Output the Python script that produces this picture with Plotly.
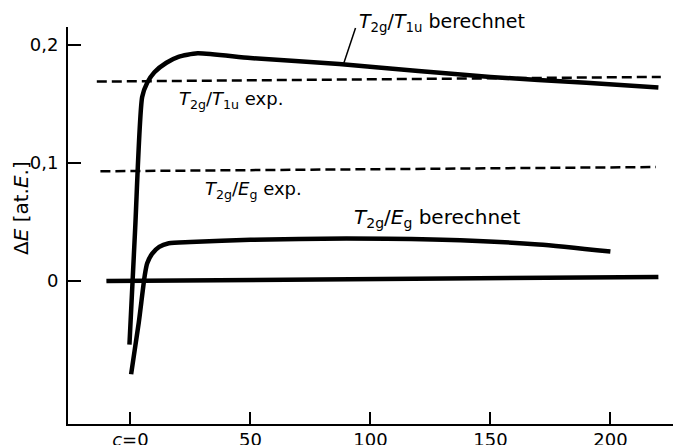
import plotly.graph_objects as go

# T2g/T1u berechnet
c_t1u_calc = [-0.4, 2.0, 4.9, 7, 10, 15, 20, 28, 50, 87, 120, 150, 190, 220]
e_t1u_calc = [-0.054, 0.045, 0.156, 0.168, 0.177, 0.185, 0.190, 0.193, 0.189, 0.184, 0.178, 0.173, 0.168, 0.164]

# T2g/Eg berechnet
c_eg_calc = [0.3, 3.5, 6, 7, 9, 12, 16, 25, 50, 90, 130, 170, 200]
e_eg_calc = [-0.079, -0.035, 0.005, 0.015, 0.023, 0.029, 0.032, 0.033, 0.035, 0.036, 0.035, 0.031, 0.025]

# zero line
c_zero = [-10, 100, 220]
e_zero = [0.0, 0.0015, 0.0034]

# experimental values (dashed)
c_t1u_exp = [-14, 221]
e_t1u_exp = [0.169, 0.173]
c_eg_exp = [-12.5, 219]
e_eg_exp = [0.093, 0.0966]

x_tickvals = [0, 50, 100, 150, 200]
x_ticktext = ["<i>c</i>=0", "50", "100", "150", "200"]
y_tickvals = [0, 0.1, 0.2]
y_ticktext = ["0", "0,1", "0,2"]

FONT = "DejaVu Sans"
fig = go.Figure()
solid = dict(color="black", width=4.5, shape="spline", smoothing=0.6)
fig.add_trace(go.Scatter(x=c_t1u_calc, y=e_t1u_calc, mode="lines", line=solid))
fig.add_trace(go.Scatter(x=c_eg_calc, y=e_eg_calc, mode="lines", line=solid))
fig.add_trace(go.Scatter(x=c_zero, y=e_zero, mode="lines", line=dict(color="black", width=4.5)))
dash = dict(color="black", width=2.5, dash="10px,5px")
fig.add_trace(go.Scatter(x=c_t1u_exp, y=e_t1u_exp, mode="lines", line=dash))
fig.add_trace(go.Scatter(x=c_eg_exp, y=e_eg_exp, mode="lines", line=dash))

# page body has an 8px margin; plot area spans window x 68..680, y 27..424
H = 397.0
def py(pix):
    return (424 - pix) / H

T = "<i>T</i><sub>2g</sub>"
annotations = [
    dict(x=94.6, y=py(22), text=T + "/<i>T</i><sub>1u</sub> berechnet", size=19),
    dict(x=19.6, y=py(100), text=T + "/<i>T</i><sub>1u</sub> exp.", size=18),
    dict(x=30.4, y=py(190), text=T + "/<i>E</i><sub>g</sub> exp.", size=18),
    dict(x=92.5, y=py(218), text=T + "/<i>E</i><sub>g</sub> berechnet", size=20),
]
for a in annotations:
    s = a.pop("size")
    a.update(xref="x", yref="paper", showarrow=False, xanchor="left", yanchor="middle",
             font=dict(family=FONT, size=s, color="black"))
annotations.append(dict(xref="paper", yref="paper", x=(21 - 68) / 612.0, y=py(208),
                        text="Δ<i>E</i> [at.<i>E</i>.]", textangle=-90, showarrow=False,
                        font=dict(family=FONT, size=20, color="black"),
                        xanchor="center", yanchor="middle"))

fig.update_layout(
    width=673, height=437,
    margin=dict(l=60, r=1, t=19, b=21, autoexpand=False),
    paper_bgcolor="white", plot_bgcolor="white",
    showlegend=False,
    font=dict(family=FONT, size=18, color="black"),
    annotations=annotations,
    shapes=[dict(type="line", xref="x", yref="y", x0=93.8, y0=0.2144, x1=88.8, y1=0.184,
                 line=dict(color="black", width=1.5))],
)
fig.update_xaxes(range=[-26, 229], showgrid=False, zeroline=False, showline=True,
                 linecolor="black", linewidth=2, ticks="inside", ticklen=12, tickwidth=1.5,
                 tickcolor="black", tickvals=x_tickvals, ticktext=x_ticktext,
                 tickfont=dict(family=FONT, size=18), ticklabelstandoff=-2, automargin=False)
fig.update_yaxes(range=[-0.1212, 0.2153], showgrid=False, zeroline=False, showline=True,
                 linecolor="black", linewidth=2, ticks="inside", ticklen=13, tickwidth=1.5,
                 tickcolor="black", tickvals=y_tickvals, ticktext=y_ticktext,
                 tickfont=dict(family=FONT, size=18), ticklabelstandoff=4, automargin=False)

fig.write_html("out.html")
